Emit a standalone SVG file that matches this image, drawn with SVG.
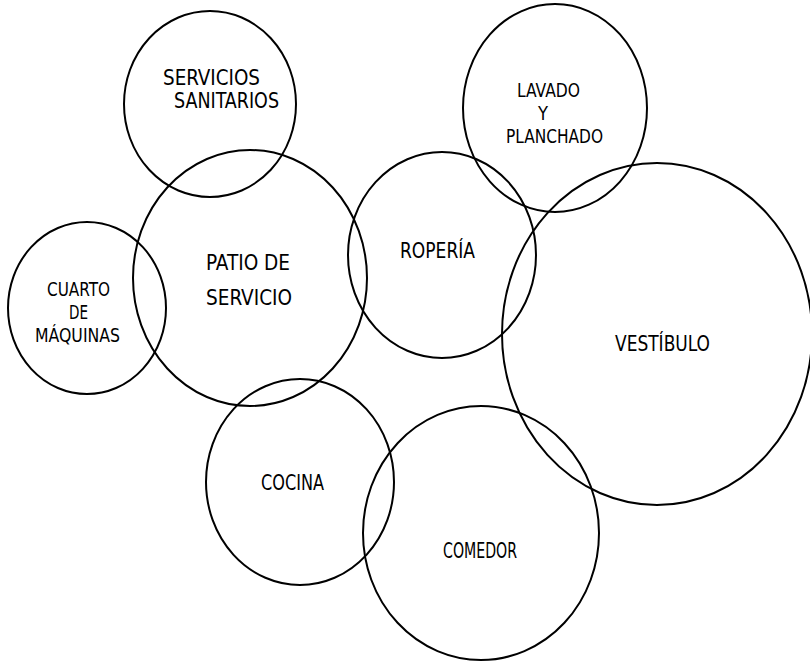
<svg xmlns="http://www.w3.org/2000/svg" width="810" height="662" viewBox="0 0 810 662">
<style>
.room{fill:none;stroke:#000;stroke-width:2}
.lbl{font-family:"Liberation Sans Narrow","DejaVu Sans Condensed","Liberation Sans",sans-serif;font-size:22px;fill:#000}
.sm{font-size:20px}
</style>
<rect width="810" height="662" fill="#fff"/>
<g id="connectors"/>
<g id="servicios-sanitarios">
<ellipse class="room" cx="210" cy="104" rx="86" ry="93"/>
<text class="lbl" x="163" y="85" textLength="97" lengthAdjust="spacingAndGlyphs">SERVICIOS</text>
<text class="lbl" x="174" y="108" textLength="105" lengthAdjust="spacingAndGlyphs">SANITARIOS</text>
</g>
<g id="lavado-planchado">
<ellipse class="room" cx="555" cy="108" rx="92" ry="104"/>
<text class="lbl sm" x="517" y="97" textLength="63" lengthAdjust="spacingAndGlyphs">LAVADO</text>
<text class="lbl sm" x="538" y="120" textLength="10" lengthAdjust="spacingAndGlyphs">Y</text>
<text class="lbl sm" x="506" y="143" textLength="97" lengthAdjust="spacingAndGlyphs">PLANCHADO</text>
</g>
<g id="cuarto-maquinas">
<ellipse class="room" cx="87" cy="308" rx="79" ry="86"/>
<text class="lbl sm" x="47" y="296" textLength="63" lengthAdjust="spacingAndGlyphs">CUARTO</text>
<text class="lbl sm" x="69" y="319" textLength="19" lengthAdjust="spacingAndGlyphs">DE</text>
<text class="lbl sm" x="35" y="342" textLength="85" lengthAdjust="spacingAndGlyphs">MÁQUINAS</text>
</g>
<g id="patio-servicio">
<ellipse class="room" cx="250" cy="278" rx="117" ry="128"/>
<text class="lbl" x="206" y="270" textLength="84" lengthAdjust="spacingAndGlyphs">PATIO DE</text>
<text class="lbl" x="206" y="305" textLength="86" lengthAdjust="spacingAndGlyphs">SERVICIO</text>
</g>
<g id="roperia">
<ellipse class="room" cx="442" cy="255" rx="94" ry="103"/>
<text class="lbl" x="400" y="258" textLength="75" lengthAdjust="spacingAndGlyphs">ROPERÍA</text>
</g>
<g id="vestibulo">
<ellipse class="room" cx="657" cy="334" rx="155" ry="171"/>
<text class="lbl" x="615" y="351" textLength="95" lengthAdjust="spacingAndGlyphs">VESTÍBULO</text>
</g>
<g id="cocina">
<ellipse class="room" cx="300" cy="482" rx="94" ry="103"/>
<text class="lbl" x="261" y="490" textLength="63" lengthAdjust="spacingAndGlyphs">COCINA</text>
</g>
<g id="comedor">
<ellipse class="room" cx="481" cy="533" rx="118" ry="127"/>
<text class="lbl" x="443" y="558" textLength="74" lengthAdjust="spacingAndGlyphs">COMEDOR</text>
</g>
</svg>
